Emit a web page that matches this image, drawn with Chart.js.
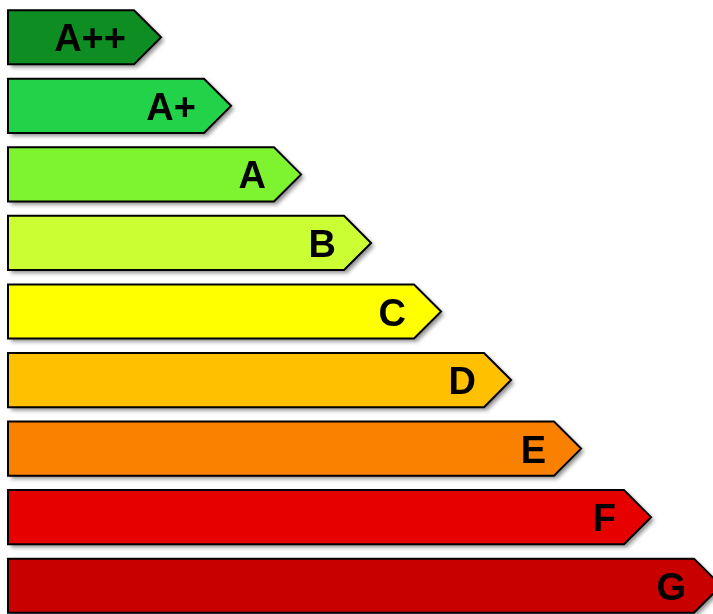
<!DOCTYPE html>
<html>
<head>
<meta charset="utf-8">
<script src="https://cdn.jsdelivr.net/npm/chart.js@4"></script>
<style>
  html, body { margin: 0; padding: 0; background: #fff; overflow: hidden; }
  #wrap { position: relative; width: 713px; height: 620px; }
</style>
</head>
<body>
<div id="wrap"><canvas id="energyChart"></canvas></div>
<script>
// Energy classes, top to bottom
const classes = ['A++', 'A+', 'A', 'B', 'C', 'D', 'E', 'F', 'G'];
// Length of the body of each arrow (arbitrary units)
const lengths = [1.8, 2.8, 3.8, 4.8, 5.8, 6.8, 7.8, 8.8, 9.8];
const colors = ['#0e8e22', '#22d34a', '#7ef431', '#ccff33', '#ffff00', '#ffc000', '#fa8100', '#e60000', '#c80000'];

// draws each bar as an arrow with a pointed tip, plus its label
const arrowPlugin = {
    id: 'arrows',
    afterDatasetsDraw(chart) {
        const ctx = chart.ctx;
        const meta = chart.getDatasetMeta(0);
        meta.data.forEach((bar, i) => {
            const top = bar.y - bar.height / 2;
            const bottom = bar.y + bar.height / 2;
            const tip = bar.height / 2;

            ctx.save();
            ctx.beginPath();
            ctx.moveTo(bar.base, top);
            ctx.lineTo(bar.x, top);
            ctx.lineTo(bar.x + tip, bar.y);
            ctx.lineTo(bar.x, bottom);
            ctx.lineTo(bar.base, bottom);
            ctx.closePath();
            ctx.shadowColor = 'rgba(0,0,0,0.45)';
            ctx.shadowBlur = 4;
            ctx.shadowOffsetX = 3;
            ctx.shadowOffsetY = 3;
            ctx.fillStyle = colors[i];
            ctx.fill();
            ctx.shadowColor = 'transparent';
            ctx.lineWidth = 2;
            ctx.lineJoin = 'miter';
            ctx.strokeStyle = '#000';
            ctx.stroke();

            ctx.fillStyle = '#000';
            ctx.font = 'bold 38px "Liberation Sans", Arial, sans-serif';
            ctx.textAlign = 'right';
            ctx.textBaseline = 'alphabetic';
            ctx.fillText(classes[i], bar.x - 8, bar.y + 14);
            ctx.restore();
        });
    }
};

new Chart(document.getElementById('energyChart'), {
    type: 'bar',
    data: {
        labels: classes,
        datasets: [{
            data: lengths,
            backgroundColor: 'transparent',
            borderWidth: 0,
            categoryPercentage: 1,
            barPercentage: 0.79
        }]
    },
    options: {
        indexAxis: 'y',
        responsive: true,
        maintainAspectRatio: false,
        animation: false,
        layout: {
            padding: { left: 8, right: 5, top: 3, bottom: 0 }
        },
        plugins: {
            legend: { display: false },
            tooltip: { enabled: false }
        },
        scales: {
            x: {
                display: false,
                min: 0,
                max: 10
            },
            y: {
                display: false
            }
        }
    },
    plugins: [arrowPlugin]
});
</script>
</body>
</html>
